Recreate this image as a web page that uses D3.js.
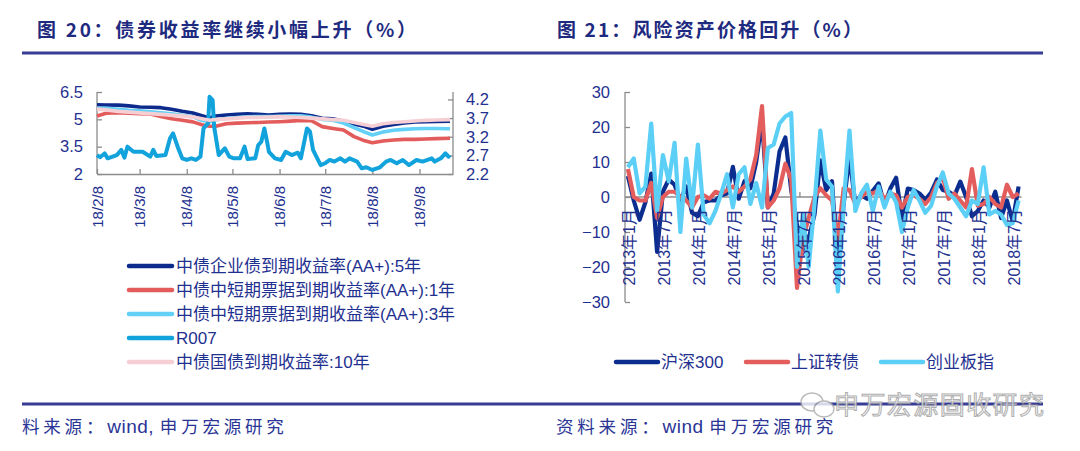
<!DOCTYPE html>
<html><head><meta charset="utf-8">
<script src="https://cdn.jsdelivr.net/npm/d3@7"></script>
<style>body{margin:0;background:#fff}svg{display:block}</style>
</head><body><svg id="c" width="1080" height="451"></svg>
<script>
// ---------- Left chart data (%, 2018) ----------
const bondDates = ["2018-02-08","2018-02-14","2018-02-22","2018-03-01","2018-03-08","2018-03-15","2018-03-22","2018-03-29","2018-04-05","2018-04-12","2018-04-18","2018-04-23","2018-04-27","2018-05-04","2018-05-11","2018-05-18","2018-05-25","2018-06-01","2018-06-08","2018-06-15","2018-06-22","2018-06-29","2018-07-06","2018-07-13","2018-07-20","2018-07-27","2018-08-03","2018-08-08","2018-08-15","2018-08-22","2018-08-29","2018-09-05","2018-09-12","2018-09-19","2018-09-28"];
const corp5Y = [5.80,5.79,5.78,5.74,5.68,5.66,5.64,5.55,5.44,5.35,5.20,5.08,5.18,5.24,5.28,5.31,5.27,5.24,5.27,5.29,5.28,5.20,5.06,5.03,4.90,4.75,4.60,4.45,4.62,4.72,4.80,4.86,4.87,4.88,4.90];
const cp1Y   = [5.18,5.33,5.36,5.34,5.31,5.29,5.15,5.03,4.95,4.86,4.70,4.62,4.62,4.76,4.79,4.81,4.83,4.85,4.87,4.90,4.94,4.92,4.60,4.50,4.41,4.05,3.82,3.72,3.81,3.87,3.90,3.90,3.92,3.94,3.96];
const cp3Y   = [5.61,5.60,5.55,5.50,5.47,5.42,5.36,5.30,5.22,5.14,4.95,4.87,4.98,5.05,5.10,5.14,5.15,5.15,5.17,5.20,5.20,5.12,5.00,4.95,4.80,4.55,4.30,4.14,4.30,4.40,4.45,4.48,4.50,4.50,4.48];
const cgb10Y = [3.94,3.92,3.88,3.86,3.84,3.82,3.80,3.78,3.76,3.73,3.68,3.64,3.66,3.68,3.70,3.72,3.72,3.73,3.74,3.73,3.72,3.70,3.68,3.66,3.64,3.58,3.52,3.48,3.55,3.58,3.60,3.62,3.64,3.65,3.66];
const r007Dates = ["2018-02-08","2018-02-10","2018-02-13","2018-02-15","2018-02-21","2018-02-24","2018-02-26","2018-02-28","2018-03-04","2018-03-10","2018-03-15","2018-03-17","2018-03-19","2018-03-25","2018-03-28","2018-03-30","2018-04-02","2018-04-05","2018-04-08","2018-04-11","2018-04-14","2018-04-17","2018-04-19","2018-04-20","2018-04-22","2018-04-23","2018-04-25","2018-04-26","2018-04-29","2018-05-03","2018-05-06","2018-05-09","2018-05-13","2018-05-16","2018-05-18","2018-05-23","2018-05-25","2018-05-27","2018-05-29","2018-05-31","2018-06-01","2018-06-05","2018-06-09","2018-06-12","2018-06-16","2018-06-20","2018-06-22","2018-06-26","2018-06-28","2018-06-30","2018-07-05","2018-07-08","2018-07-11","2018-07-14","2018-07-18","2018-07-21","2018-07-24","2018-07-29","2018-08-01","2018-08-04","2018-08-08","2018-08-13","2018-08-17","2018-08-20","2018-08-24","2018-08-28","2018-09-01","2018-09-06","2018-09-10","2018-09-16","2018-09-18","2018-09-22","2018-09-25","2018-09-27","2018-09-28"];
const r007 = [3.04,2.92,3.13,2.86,3.04,3.32,2.90,3.50,3.22,3.22,2.95,3.32,2.99,3.04,3.96,4.23,3.50,2.86,2.77,2.86,2.77,2.95,4.50,4.60,4.78,6.24,6.06,4.60,3.04,3.41,2.95,2.86,2.86,3.50,2.82,2.86,3.59,3.77,4.50,3.68,3.22,2.86,2.77,3.22,3.04,3.17,2.86,4.50,4.32,3.32,2.49,2.59,2.77,2.68,2.86,2.68,2.86,2.68,2.31,2.37,2.22,2.37,2.68,2.77,2.59,2.77,2.49,2.77,2.68,2.86,2.68,2.86,3.13,2.95,3.04];
const leftTicks = [2, 3.5, 5, 6.5];
const rightTicks = [2.2, 2.7, 3.2, 3.7, 4.2];
const leftXTicks = ["2018-02-08","2018-03-08","2018-04-08","2018-05-08","2018-06-08","2018-07-08","2018-08-08","2018-09-08"];
const leftXLabels = ["18/2/8","18/3/8","18/4/8","18/5/8","18/6/8","18/7/8","18/8/8","18/9/8"];
const leftNames = ["中债企业债到期收益率(AA+):5年","中债中短期票据到期收益率(AA+):1年","中债中短期票据到期收益率(AA+):3年","R007","中债国债到期收益率:10年"];

// ---------- Right chart data (monthly change, %) ----------
const months = ["2013-01","2013-02","2013-03","2013-04","2013-05","2013-06","2013-07","2013-08","2013-09","2013-10","2013-11","2013-12",
"2014-01","2014-02","2014-03","2014-04","2014-05","2014-06","2014-07","2014-08","2014-09","2014-10","2014-11","2014-12",
"2015-01","2015-02","2015-03","2015-04","2015-05","2015-06","2015-07","2015-08","2015-09","2015-10","2015-11","2015-12",
"2016-01","2016-02","2016-03","2016-04","2016-05","2016-06","2016-07","2016-08","2016-09","2016-10","2016-11","2016-12",
"2017-01","2017-02","2017-03","2017-04","2017-05","2017-06","2017-07","2017-08","2017-09","2017-10","2017-11","2017-12",
"2018-01","2018-02","2018-03","2018-04","2018-05","2018-06","2018-07","2018-08"];
const hs300 = [6,-1,-6.5,-1.5,6.7,-15.7,1.5,5,3.5,-1,3,-4.5,-5.5,-1.5,-1,-1,0.5,1,8.6,-0.5,4.5,2.5,10,22,-3,1,13,17,2,-8,-15,-12,-5,10.5,2,4.5,-21,-2,11.5,-2,0.5,-0.5,1.8,3.9,-2.2,2.4,5.5,-6,2.4,2,1,-0.8,1.3,5,2,1.5,0.4,4.4,0,-5.5,-4,-1,-3,1.5,-6,-1,-7,3];
const cbIndex = [8,0,-1,-1,4,-6,0,1.5,1.5,0,-1,-3,0,0.5,-0.5,1.5,1,2,3,1.5,3,5,12,26,-3,-1,2.5,9.5,5,-26,-12,-6,0,2.5,0.5,-1,-12,2.5,2,-2,0,1.5,1,2,-0.5,1,0.5,-3,0,0.5,-0.5,-2,0,4,5.5,-0.5,1,-1,-3,8,-2.5,-2,0,-2,-3,3.5,0,1];
const chinext = [8.5,11,1,3,21,-4,12,4.5,15.5,-10,11,-3,15,-5,-7.5,-4,1,6.5,-3,6.5,8.5,-2,4,-3,14,15,21,23,24,-20,-5,-20,-2,19,5,3,-27,-2,19,-4,1,3.5,-4,3,-3,1.5,-1.5,-10,-3,2,-1,-4.5,-2.5,3,7,1,-0.5,-3,-5.5,-1,-2,8.5,-5,-4,-5,-8,-7.5,-1];
const rightYTicks = [-30,-20,-10,0,10,20,30];
const rightXLabelMonths = ["2013-01","2013-07","2014-01","2014-07","2015-01","2015-07","2016-01","2016-07","2017-01","2017-07","2018-01","2018-07"];
const rightXLabels = ["2013年1月","2013年7月","2014年1月","2014年7月","2015年1月","2015年7月","2016年1月","2016年7月","2017年1月","2017年7月","2018年1月","2018年7月"];
const rightNames = ["沪深300","上证转债","创业板指"];

// ---------- styles ----------
const NAVY = "#1f3190", AXIS = "#8c8c8c", RULE = "#373c94";
const NUM = "Arial, 'Liberation Sans', sans-serif";
const MIX = "Arial, 'Liberation Sans', 'Noto Sans CJK SC', sans-serif";
const CJK = "'Noto Sans CJK SC', sans-serif";
const leftColors = ["#0d2b8c","#e35b5b","#62d0f7","#12a3dd","#f6cfd4"];
const leftWidths = [3.6,3.6,3.6,4,3.6];
const rightColors = ["#0b2d8f","#e35d5d","#5ccff6"];

const parse = d3.timeParse("%Y-%m-%d");
const svg = d3.select("#c");

// titles and rules
svg.append("text").attr("x",37).attr("y",37).text("图 20：债券收益率继续小幅上升（%）")
  .attr("font-family",CJK).attr("font-weight","bold").attr("font-size",19).attr("fill","#1e2a80")
  .attr("textLength",379).attr("lengthAdjust","spacing");
svg.append("text").attr("x",557).attr("y",37).text("图 21：风险资产价格回升（%）")
  .attr("font-family",CJK).attr("font-weight","bold").attr("font-size",19).attr("fill","#1e2a80")
  .attr("textLength",305).attr("lengthAdjust","spacing");
svg.append("line").attr("x1",22).attr("x2",1043).attr("y1",53).attr("y2",53).attr("stroke",RULE).attr("stroke-width",3);
svg.append("line").attr("x1",22).attr("x2",1043).attr("y1",404).attr("y2",404).attr("stroke",RULE).attr("stroke-width",3);
function footer(x, parts){
  const t = svg.append("text").attr("x",x).attr("y",433).attr("fill","#2a3596");
  parts.forEach(p=>{
    t.append("tspan").text(p[0]).attr("font-family",p[1]?NUM:CJK).attr("font-size",p[1]?19:17.5)
      .attr("letter-spacing",p[1]?0.5:3.8);
  });
}
footer(22, [["料来源：",0],["wind, ",1],["申万宏源研究",0]]);
footer(556, [["资料来源：",0],["wind  ",1],["申万宏源研究",0]]);
// watermark
const wm = svg.append("g").attr("opacity",0.8);
wm.append("ellipse").attr("cx",812).attr("cy",402).attr("rx",11).attr("ry",9).attr("fill","#fff").attr("stroke","#a8a8a8").attr("stroke-width",1.4);
wm.append("ellipse").attr("cx",824).attr("cy",409).attr("rx",10).attr("ry",8).attr("fill","#fff").attr("stroke","#a8a8a8").attr("stroke-width",1.4);
wm.append("text").attr("x",834).attr("y",414).text("申万宏源固收研究").attr("font-family",CJK).attr("font-size",25)
  .attr("fill","#ffffff").attr("stroke","#9a9a9a").attr("stroke-width",1).attr("textLength",210).attr("lengthAdjust","spacing");

// ---------- Left chart ----------
const L = {x0:97, x1:453, y0:92, y1:174};
const xL = d3.scaleTime().domain([parse("2018-02-08"), parse("2018-09-30")]).range([L.x0, L.x1]);
const yL = d3.scaleLinear().domain([2, 6.5]).range([L.y1, L.y0]);
const yR = d3.scaleLinear().domain([2.2, 4.4]).range([L.y1, L.y0]);

const gL = svg.append("g");
const axL = gL.append("g").attr("transform",`translate(${L.x0},0)`)
  .call(d3.axisLeft(yL).tickValues(leftTicks).tickSizeInner(-5).tickSizeOuter(0).tickPadding(14).tickFormat(d3.format("")));
const axR = gL.append("g").attr("transform",`translate(${L.x1},0)`)
  .call(d3.axisRight(yR).tickValues(rightTicks).tickSizeInner(-5).tickSizeOuter(0).tickPadding(13).tickFormat(d3.format(".1f")));
const axB = gL.append("g").attr("transform",`translate(0,${L.y1})`)
  .call(d3.axisBottom(xL).tickValues(leftXTicks.map(parse)).tickSizeInner(-5).tickSizeOuter(0).tickFormat(""));
[axL,axR,axB].forEach(a=>{
  a.selectAll("path,line").attr("stroke",AXIS).attr("stroke-width",1.3);
  a.selectAll("text").attr("font-family",NUM).attr("font-size",16.5).attr("fill",NAVY);
});
axR.selectAll("path").attr("d",`M0,${L.y0}V${L.y1}`);
axL.selectAll("path").attr("d",`M0,${L.y0}V${L.y1}`);
gL.selectAll("text.xl").data(leftXTicks).enter().append("text")
  .attr("transform",d=>`translate(${xL(parse(d))},186) rotate(-90)`)
  .attr("text-anchor","end").attr("dominant-baseline","central")
  .attr("font-family",NUM).attr("font-size",15).attr("fill",NAVY)
  .text((d,i)=>leftXLabels[i]);

const bondSeries = [
  {vals:corp5Y, dates:bondDates, y:yL},
  {vals:cp1Y, dates:bondDates, y:yL},
  {vals:cp3Y, dates:bondDates, y:yL},
  {vals:r007, dates:r007Dates, y:yL},
  {vals:cgb10Y, dates:bondDates, y:yR}
];
bondSeries.forEach((s,k)=>{
  const line = d3.line().x((d,i)=>xL(parse(s.dates[i]))).y(d=>s.y(d));
  gL.append("path").datum(s.vals).attr("d",line).attr("fill","none")
    .attr("stroke",leftColors[k]).attr("stroke-width",leftWidths[k]).attr("stroke-linejoin","round");
});
// legend left
const legY = [266,290,314,338,362];
leftNames.forEach((n,k)=>{
  gL.append("line").attr("x1",129).attr("x2",172).attr("y1",legY[k]).attr("y2",legY[k])
    .attr("stroke",leftColors[k]).attr("stroke-width",4.5).attr("stroke-linecap","round");
  gL.append("text").attr("x",176).attr("y",legY[k]).attr("dominant-baseline","central")
    .attr("font-family",MIX).attr("font-size",17).attr("fill",NAVY).text(n);
});

// ---------- Right chart ----------
const R = {x0:625, x1:1021.5, y0:92, y1:302};
const xM = d3.scalePoint().domain(months).range([R.x0, R.x1]).padding(0.5);
const step = xM.step();
const yM = d3.scaleLinear().domain([-30, 30]).range([R.y1, R.y0]);
const gR = svg.append("g");
const axM = gR.append("g").attr("transform",`translate(${R.x0},0)`)
  .call(d3.axisLeft(yM).tickValues(rightYTicks).tickSizeInner(-5).tickSizeOuter(0).tickPadding(15));
axM.selectAll("path,line").attr("stroke",AXIS).attr("stroke-width",1.3);
axM.selectAll("text").attr("font-family",NUM).attr("font-size",16.5).attr("fill",NAVY);
axM.selectAll("path").attr("d",`M0,${R.y0}V${R.y1}`);
gR.append("line").attr("x1",R.x0).attr("x2",R.x1).attr("y1",yM(0)).attr("y2",yM(0)).attr("stroke",AXIS).attr("stroke-width",1.3);
[30,60].forEach(b=>{
  const bx = xM(months[b]) - step/2;
  gR.append("line").attr("x1",bx).attr("x2",bx).attr("y1",yM(0)).attr("y2",yM(0)-5).attr("stroke",AXIS).attr("stroke-width",1.3);
});
const rSeries = [hs300, cbIndex, chinext];
rSeries.forEach((s,k)=>{
  const line = d3.line().x((d,i)=>xM(months[i])).y(d=>yM(d));
  gR.append("path").datum(s).attr("d",line).attr("fill","none")
    .attr("stroke",rightColors[k]).attr("stroke-width",4.2).attr("stroke-linejoin","round");
});
gR.selectAll("text.xm").data(rightXLabelMonths).enter().append("text")
  .attr("transform",d=>`translate(${xM(d)+2},209) rotate(-90)`)
  .attr("text-anchor","end").attr("dominant-baseline","central")
  .attr("font-family",MIX).attr("font-size",16).attr("fill",NAVY)
  .text((d,i)=>rightXLabels[i]);
// legend right
const legX = [616,746,881];
rightNames.forEach((n,k)=>{
  gR.append("line").attr("x1",legX[k]).attr("x2",legX[k]+42).attr("y1",362).attr("y2",362)
    .attr("stroke",rightColors[k]).attr("stroke-width",4.5).attr("stroke-linecap","round");
  gR.append("text").attr("x",legX[k]+45).attr("y",362).attr("dominant-baseline","central")
    .attr("font-family",MIX).attr("font-size",17).attr("fill",NAVY).text(n);
});
</script></body></html>
